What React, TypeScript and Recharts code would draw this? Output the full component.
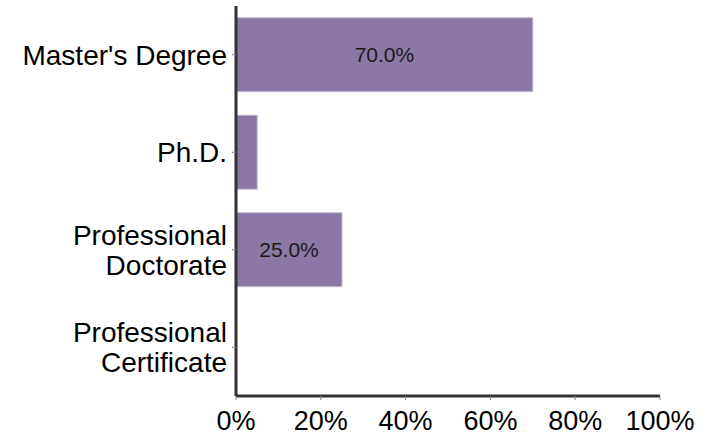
import React from "react";
import { BarChart, Bar, XAxis, YAxis, LabelList } from "recharts";

const categories = ["Master's Degree", "Ph.D.", "Professional Doctorate", "Professional Certificate"];
const categoryLines = [["Master's Degree"], ["Ph.D."], ["Professional", "Doctorate"], ["Professional", "Certificate"]];
const shares = [70, 5, 25, 0];
const xTicks = [0, 20, 40, 60, 80, 100];

const data = categories.map((c, i) => ({ name: c, lines: categoryLines[i], value: shares[i] }));

const FONT = "'Liberation Sans', Arial, sans-serif";

const YTick = (props: any) => {
  const { x, y, payload } = props;
  const idx = categories.indexOf(payload.value);
  const lines = idx >= 0 ? categoryLines[idx] : [payload.value];
  const lh = 30;
  const start = -((lines.length - 1) * lh) / 2;
  return (
    <text x={x} y={y} textAnchor="end" fontFamily={FONT} fontSize={28} fill="#000">
      {lines.map((l: string, i: number) => (
        <tspan key={i} x={x} y={y + start + i * lh} dy="0.35em">
          {l}
        </tspan>
      ))}
    </text>
  );
};

const XTick = (props: any) => {
  const { x, y, payload } = props;
  return (
    <text x={x} y={y} dy="0.75em" textAnchor="middle" fontFamily={FONT} fontSize={27} fill="#000">
      {payload.value + "%"}
    </text>
  );
};

const BarLabel = (props: any) => {
  const { x, y, width, height, value } = props;
  if (value < 10) return null;
  return (
    <text
      x={x + width / 2}
      y={y + height / 2}
      dy="0.35em"
      textAnchor="middle"
      fontFamily={FONT}
      fontSize={21}
      fill="#1a1a1a"
    >
      {Number(value).toFixed(1) + "%"}
    </text>
  );
};

export default function App() {
  return (
    <div style={{ position: "absolute", left: 0, top: 0, width: 711, height: 436, background: "#fff" }}>
      <BarChart
        width={711}
        height={436}
        data={data}
        layout="vertical"
        margin={{ top: 6, right: 51, bottom: 0, left: 0 }}
        barCategoryGap="12%"
      >
        <XAxis
          type="number"
          domain={[0, 100]}
          ticks={xTicks}
          height={40}
          axisLine={{ stroke: "#333", strokeWidth: 3 }}
          tickLine={{ stroke: "#888", strokeWidth: 1 }}
          tickSize={4}
          tickMargin={10}
          tick={<XTick />}
          interval={0}
        />
        <YAxis
          type="category"
          dataKey="name"
          width={236}
          axisLine={{ stroke: "#333", strokeWidth: 3 }}
          tickLine={{ stroke: "#888", strokeWidth: 1 }}
          tickSize={4}
          tickMargin={5}
          tick={<YTick />}
          interval={0}
        />
        <Bar dataKey="value" fill="#8b78a6" stroke="#c4bccf" strokeWidth={1} isAnimationActive={false}>
          <LabelList dataKey="value" content={<BarLabel />} />
        </Bar>
      </BarChart>
    </div>
  );
}
